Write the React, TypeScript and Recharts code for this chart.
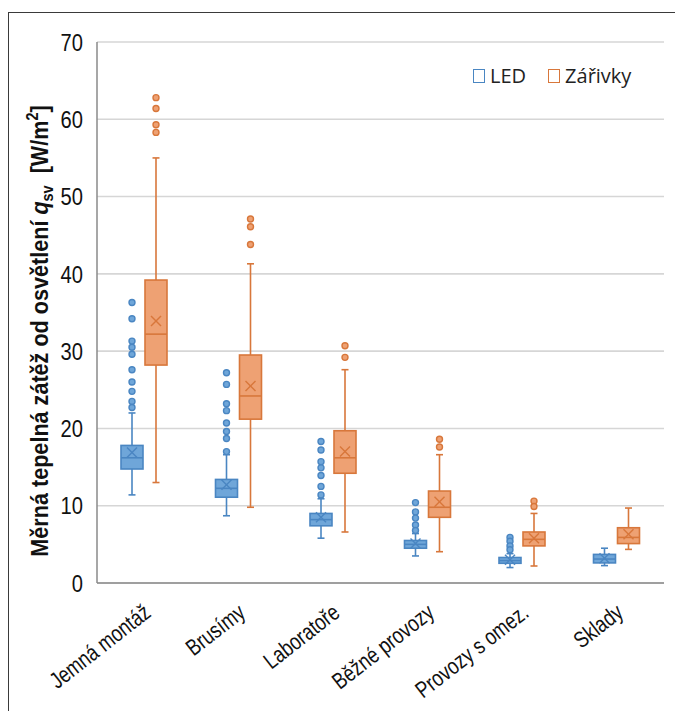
import React from "react";
import {
  ComposedChart,
  Bar,
  XAxis,
  YAxis,
  CartesianGrid,
} from "recharts";

// ---------- data ----------
const categories = [
  "Jemná montáž",
  "Brusímy",
  "Laboratoře",
  "Běžné provozy",
  "Provozy s omez.",
  "Sklady",
];

const yTicks = [0, 10, 20, 30, 40, 50, 60, 70];

const ledMin = [11.4, 8.7, 5.8, 3.5, 2.0, 2.25];
const ledQ1 = [14.75, 11.1, 7.4, 4.5, 2.55, 2.6];
const ledMedian = [16.2, 12.25, 8.2, 5.0, 2.9, 3.1];
const ledQ3 = [17.8, 13.4, 9.0, 5.5, 3.3, 3.7];
const ledMax = [22.0, 16.6, 10.9, 6.4, 3.8, 4.5];
const ledMean = [16.9, 12.7, 8.5, 5.1, 3.0, 3.2];
const ledOutliers = [
  [36.3, 34.2, 31.3, 30.5, 29.6, 27.6, 26.0, 24.8, 23.5, 22.7],
  [27.2, 25.7, 23.2, 22.3, 20.7, 19.6, 18.7, 17.0],
  [18.3, 17.2, 15.7, 14.9, 13.9, 12.5, 11.4],
  [10.4, 9.2, 8.4, 7.5, 6.8],
  [5.9, 5.4, 4.8, 4.3],
  [],
];

const zarMin = [13.0, 9.8, 6.6, 4.05, 2.2, 4.35];
const zarQ1 = [28.2, 21.2, 14.2, 8.5, 4.8, 5.1];
const zarMedian = [32.2, 24.2, 16.2, 9.8, 5.65, 5.9];
const zarQ3 = [39.2, 29.5, 19.7, 11.9, 6.6, 7.15];
const zarMax = [55.0, 41.3, 27.6, 16.6, 9.0, 9.7];
const zarMean = [33.9, 25.5, 17.0, 10.5, 5.8, 6.3];
const zarOutliers = [
  [62.8, 61.4, 59.3, 58.3],
  [47.1, 46.1, 43.8],
  [30.7, 29.2],
  [18.6, 17.6],
  [10.6, 9.9],
  [],
];

const data = categories.map((name, i) => ({
  name,
  led: {
    min: ledMin[i],
    q1: ledQ1[i],
    median: ledMedian[i],
    q3: ledQ3[i],
    max: ledMax[i],
    mean: ledMean[i],
    outliers: ledOutliers[i],
  },
  zar: {
    min: zarMin[i],
    q1: zarQ1[i],
    median: zarMedian[i],
    q3: zarQ3[i],
    max: zarMax[i],
    mean: zarMean[i],
    outliers: zarOutliers[i],
  },
}));

// ---------- styles ----------
const LED_FILL = "#6fa6d9";
const LED_STROKE = "#4a86c2";
const ZAR_FILL = "#eea173";
const ZAR_STROKE = "#d8773b";
const TICK_FONT = "'Liberation Sans', Arial, sans-serif";
const LABEL_FONT = "'Liberation Sans', Arial, sans-serif";
const LEGEND_FONT = "'Open Sans', 'Noto Sans', sans-serif";

const makeBoxShape = (key: "led" | "zar", fill: string, stroke: string) => (props: any) => {
  const { x, y, width, height, payload } = props;
  const s = payload[key];
  const k = height / (s.max - s.min);
  const py = (v: number) => y + (s.max - v) * k;
  const cx = x + width / 2;
  const cap = 3.5;
  const m = 5;
  return (
    <g>
      <line x1={cx} x2={cx} y1={py(s.max)} y2={py(s.q3)} stroke={stroke} strokeWidth={1.6} />
      <line x1={cx} x2={cx} y1={py(s.q1)} y2={py(s.min)} stroke={stroke} strokeWidth={1.6} />
      <line x1={cx - cap} x2={cx + cap} y1={py(s.max)} y2={py(s.max)} stroke={stroke} strokeWidth={1.6} />
      <line x1={cx - cap} x2={cx + cap} y1={py(s.min)} y2={py(s.min)} stroke={stroke} strokeWidth={1.6} />
      <rect
        x={x}
        y={py(s.q3)}
        width={width}
        height={py(s.q1) - py(s.q3)}
        fill={fill}
        stroke={stroke}
        strokeWidth={1.6}
      />
      <line x1={x} x2={x + width} y1={py(s.median)} y2={py(s.median)} stroke={stroke} strokeWidth={1.6} />
      <line x1={cx - m} x2={cx + m} y1={py(s.mean) - m} y2={py(s.mean) + m} stroke={stroke} strokeWidth={1.4} />
      <line x1={cx - m} x2={cx + m} y1={py(s.mean) + m} y2={py(s.mean) - m} stroke={stroke} strokeWidth={1.4} />
      {s.outliers.map((v: number, j: number) => (
        <circle key={j} cx={cx} cy={py(v)} r={3} fill={fill} stroke={stroke} strokeWidth={1.4} />
      ))}
    </g>
  );
};

const XTick = (props: any) => {
  const { x, y, payload } = props;
  return (
    <g transform={`translate(${x + 3},${y + 18}) rotate(-38) scale(0.8,1)`}>
      <text
        x={0}
        y={0}
        dy="0.35em"
        textAnchor="end"
        fontSize={23}
        fontFamily={TICK_FONT}
        fill="#111"
      >
        {payload.value}
      </text>
    </g>
  );
};

const YTick = (props: any) => {
  const { x, y, payload } = props;
  return (
    <g transform={`translate(${x},${y}) scale(0.84,1)`}>
      <text x={0} y={0} dy="0.36em" textAnchor="end" fontSize={24} fontFamily={TICK_FONT} fill="#111">
        {payload.value}
      </text>
    </g>
  );
};

const YLabel = () => (
  <text
    transform="translate(48,331) rotate(-90) scale(0.9,1)"
    textAnchor="middle"
    fontSize={24}
    fontWeight="bold"
    fontFamily={LABEL_FONT}
    fill="#111"
  >
    {"Měrná tepelná zátěž od osvětlení "}
    <tspan fontStyle="italic">q</tspan>
    <tspan fontSize={16} dy={5}>sv</tspan>
    <tspan dy={-5}>{"\u00a0\u00a0[W/m"}</tspan>
    <tspan fontSize={16} dy={-10}>2</tspan>
    <tspan dy={10}>]</tspan>
  </text>
);

const LegendBox = () => (
  <div
    style={{
      position: "absolute",
      left: 473,
      top: 62,
      display: "flex",
      alignItems: "center",
      fontFamily: LEGEND_FONT,
      fontSize: 20,
      color: "#222",
      whiteSpace: "nowrap",
      lineHeight: "28px",
    }}
  >
    <span
      style={{ display: "inline-block", width: 10, height: 12, border: `1.5px solid ${LED_STROKE}`, marginRight: 5 }}
    />
    <span style={{ marginRight: 22 }}>LED</span>
    <span
      style={{ display: "inline-block", width: 10, height: 12, border: `1.5px solid ${ZAR_STROKE}`, marginRight: 5 }}
    />
    <span>Zářivky</span>
  </div>
);

export default function App() {
  return (
    <div style={{ position: "absolute", left: 0, top: 0, width: 675, height: 711, background: "#fff", overflow: "hidden" }}>
      <div
        style={{
          position: "absolute",
          left: 8,
          top: 12,
          width: 700,
          height: 720,
          borderTop: "1.5px solid #3a3a3a",
          borderLeft: "1.5px solid #3a3a3a",
        }}
      />
      <div style={{ position: "absolute", left: 0, top: 0 }}>
        <ComposedChart
          width={675}
          height={711}
          data={data}
          margin={{ top: 42, right: 11, bottom: 0, left: 57 }}
          barSize={22}
          barGap={2}
        >
          <CartesianGrid vertical={false} stroke="#d6d6d6" strokeWidth={1.6} />
          <XAxis
            dataKey="name"
            interval={0}
            tick={<XTick />}
            tickLine={false}
            axisLine={{ stroke: "#8a8a8a", strokeWidth: 1.5 }}
            height={128}
          />
          <XAxis
            xAxisId="top"
            orientation="top"
            dataKey="name"
            tick={false}
            tickLine={false}
            axisLine={{ stroke: "#8a8a8a", strokeWidth: 1.5 }}
            height={0}
          />
          <YAxis
            domain={[0, 70]}
            ticks={yTicks}
            interval={0}
            tick={<YTick />}
            tickLine={false}
            axisLine={{ stroke: "#8a8a8a", strokeWidth: 1.5 }}
            width={40}
            tickMargin={8}
          />
          <YAxis
            yAxisId="right"
            orientation="right"
            domain={[0, 70]}
            ticks={yTicks}
            tick={false}
            tickLine={false}
            axisLine={{ stroke: "#8a8a8a", strokeWidth: 1.5 }}
            width={0}
          />
          <Bar
            name="LED"
            dataKey={(d: any) => [d.led.min, d.led.max]}
            shape={makeBoxShape("led", LED_FILL, LED_STROKE)}
            isAnimationActive={false}
          />
          <Bar
            name="Zářivky"
            dataKey={(d: any) => [d.zar.min, d.zar.max]}
            shape={makeBoxShape("zar", ZAR_FILL, ZAR_STROKE)}
            isAnimationActive={false}
          />
        </ComposedChart>
        <svg width={675} height={711} style={{ position: "absolute", left: 0, top: 0, pointerEvents: "none" }}>
          <YLabel />
        </svg>
        <LegendBox />
      </div>
    </div>
  );
}
